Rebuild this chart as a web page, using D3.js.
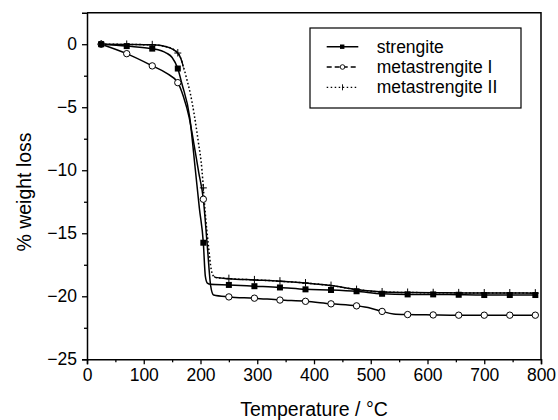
<!DOCTYPE html>
<html>
<head>
<meta charset="utf-8">
<script src="https://cdn.jsdelivr.net/npm/d3@7"></script>
<style>
  body { margin: 0; background: #fff; }
  svg { display: block; font-family: "Liberation Sans", Arial, sans-serif; }
</style>
</head>
<body>
<script>
// temperatures where symbols are drawn
const markerTemps = [25, 70, 115, 160, 205, 250, 295, 340, 385, 430, 475, 520, 565, 610, 655, 700, 745, 790];

// [temperature °C, % weight loss]
const strengite = [
  [25, 0], [70, -0.15], [115, -0.35], [140, -0.7], [150, -1.05], [160, -1.93], [167, -3.1],
  [181, -5.8], [191, -10], [198, -13], [205, -15.75], [208.5, -18.4], [212, -18.95], [218, -19.05],
  [250, -19.1], [295, -19.2], [340, -19.3], [385, -19.45], [430, -19.5], [475, -19.6],
  [520, -19.8], [565, -19.85], [610, -19.85], [655, -19.88], [700, -19.9], [745, -19.9], [790, -19.9]
];
const metaI = [
  [25, 0], [70, -0.75], [115, -1.72], [140, -2.3], [160, -3.05], [170, -4.17], [180, -5.8],
  [188, -7.8], [197, -10.2], [205, -12.3], [212, -16], [218, -19.2], [223, -19.9],
  [250, -20.05], [295, -20.15], [340, -20.3], [385, -20.4], [430, -20.6], [475, -20.76],
  [500, -20.95], [520, -21.2], [540, -21.4], [565, -21.45], [610, -21.48], [655, -21.5],
  [700, -21.5], [745, -21.5], [790, -21.5]
];
const metaII = [
  [25, 0], [70, -0.02], [115, -0.05], [140, -0.2], [160, -0.7], [165, -1.1], [170, -1.8],
  [176, -2.8], [182, -3.9], [189, -5.6], [196, -7.7], [202.6, -10], [205, -11.4], [208, -13.2],
  [214, -16], [219, -17.9], [222, -18.35], [226, -18.5], [250, -18.6], [295, -18.7],
  [340, -18.8], [385, -18.95], [430, -19.15], [475, -19.47], [520, -19.66], [565, -19.7],
  [610, -19.72], [655, -19.73], [700, -19.74], [745, -19.74], [790, -19.75]
];

const seriesNames = ["strengite", "metastrengite I", "metastrengite II"];
const xTicks = [0, 100, 200, 300, 400, 500, 600, 700, 800];
const yTicks = [0, -5, -10, -15, -20, -25];

const width = 558, height = 420;
const margin = {top: 12.7, right: 17, bottom: 60.7, left: 87};

const x = d3.scaleLinear()
    .domain([0, 800])
    .range([margin.left, width - margin.right]);
const y = d3.scaleLinear()
    .domain([-25, 2.5])
    .range([height - margin.bottom, margin.top]);

const svg = d3.select("body").append("svg")
    .attr("width", width)
    .attr("height", height);

const line = d3.line()
    .x(d => x(d[0]))
    .y(d => y(d[1]))
    .curve(d3.curveMonotoneX);

// clip: solid part of metastrengite II outside the steep step
const defs = svg.append("defs");
const clip = defs.append("clipPath").attr("id", "flat");
clip.append("rect")
    .attr("x", x(0)).attr("y", 0)
    .attr("width", x(170) - x(0)).attr("height", height);
clip.append("rect")
    .attr("x", x(224)).attr("y", 0)
    .attr("width", x(800) - x(224)).attr("height", height);

const plot = svg.append("g")
    .attr("fill", "none")
    .attr("stroke", "#000")
    .attr("stroke-width", 1.5);

plot.append("path").attr("d", line(strengite));
plot.append("path").attr("d", line(metaI));
plot.append("path").attr("d", line(metaII))
    .attr("stroke-dasharray", "1.6,2.2");
plot.append("path").attr("d", line(metaII))
    .attr("clip-path", "url(#flat)");

const atMarks = data => data.filter(d => markerTemps.includes(d[0]));

function square(g, cx, cy) {
  g.append("rect")
      .attr("x", cx - 3).attr("y", cy - 3)
      .attr("width", 6).attr("height", 6)
      .attr("fill", "#000").attr("stroke", "none");
}
function circle(g, cx, cy) {
  g.append("circle")
      .attr("cx", cx).attr("cy", cy).attr("r", 3.2)
      .attr("fill", "#fff").attr("stroke", "#000").attr("stroke-width", 1);
}
function plus(g, cx, cy) {
  g.append("path")
      .attr("d", `M${cx - 3.5},${cy}H${cx + 3.5}M${cx},${cy - 4}V${cy + 3.5}`)
      .attr("fill", "none").attr("stroke", "#000").attr("stroke-width", 1);
}

const marks = svg.append("g");
atMarks(metaII).forEach(d => plus(marks, x(d[0]), y(d[1])));
atMarks(metaI).forEach(d => circle(marks, x(d[0]), y(d[1])));
atMarks(strengite).forEach(d => square(marks, x(d[0]), y(d[1])));

// axes
const fontTick = 17.5;
svg.append("g")
    .attr("transform", `translate(0,${y(-25)})`)
    .call(d3.axisBottom(x).tickValues(xTicks).tickSize(5).tickPadding(4).tickFormat(d3.format("d")))
    .call(g => g.selectAll(".tick line").attr("stroke-width", 1.3))
    .call(g => g.selectAll(".tick text").attr("font-size", fontTick).attr("font-family", null));
svg.append("g")
    .attr("transform", `translate(0,${y(-25)})`)
    .call(d3.axisBottom(x).tickValues(d3.range(50, 800, 100)).tickSize(3).tickFormat(""))
    .call(g => g.select(".domain").remove())
    .call(g => g.selectAll(".tick line").attr("stroke-width", 1.3));

svg.append("g")
    .attr("transform", `translate(${x(0)},0)`)
    .call(d3.axisLeft(y).tickValues(yTicks).tickSize(5).tickPadding(5).tickFormat(d3.format("d")))
    .call(g => g.selectAll(".tick line").attr("stroke-width", 1.3))
    .call(g => g.selectAll(".tick text").attr("font-size", fontTick).attr("font-family", null));
svg.append("g")
    .attr("transform", `translate(${x(0)},0)`)
    .call(d3.axisLeft(y).tickValues([-2.5, -7.5, -12.5, -17.5, -22.5]).tickSize(3).tickFormat(""))
    .call(g => g.select(".domain").remove())
    .call(g => g.selectAll(".tick line").attr("stroke-width", 1.3));

svg.selectAll(".domain").attr("stroke-width", 1.5);

// frame top and right
svg.append("path")
    .attr("d", `M${x(0)},${y(2.5)}H${x(800)}V${y(-25)}`)
    .attr("fill", "none").attr("stroke", "#000").attr("stroke-width", 1.5);

// axis titles
svg.append("text")
    .attr("x", (x(0) + x(800)) / 2)
    .attr("y", 416)
    .attr("text-anchor", "middle")
    .attr("font-size", 19.5)
    .text("Temperature / °C");
svg.append("text")
    .attr("transform", "translate(31,192) rotate(-90)")
    .attr("text-anchor", "middle")
    .attr("font-size", 19.5)
    .text("% weight loss");

// legend
const legend = svg.append("g").attr("transform", "translate(310,28)");
legend.append("rect")
    .attr("width", 211).attr("height", 80)
    .attr("fill", "#fff").attr("stroke", "#000").attr("stroke-width", 1.2);
const dashes = [null, "5,3", "1.5,2.5"];
seriesNames.forEach((name, i) => {
  const cy = 18.7 + i * 20.3;
  const row = legend.append("g");
  row.append("line")
      .attr("x1", 16.7).attr("x2", 48.3).attr("y1", cy).attr("y2", cy)
      .attr("stroke", "#000").attr("stroke-width", i === 0 ? 1.5 : 1.3)
      .attr("stroke-dasharray", dashes[i]);
  if (i === 0) {
    row.append("rect").attr("x", 30).attr("y", cy - 2.2).attr("width", 4.4).attr("height", 4.4).attr("fill", "#000");
  } else if (i === 1) {
    row.append("circle").attr("cx", 32.5).attr("cy", cy).attr("r", 2.3)
        .attr("fill", "#fff").attr("stroke", "#000").attr("stroke-width", 0.9);
  } else {
    row.append("path").attr("d", `M32.5,${cy - 3}V${cy + 3}`).attr("stroke", "#000").attr("stroke-width", 0.9);
  }
  row.append("text")
      .attr("x", 66.7).attr("y", cy)
      .attr("dy", "0.35em")
      .attr("font-size", 17.5)
      .text(name);
});
</script>
</body>
</html>
